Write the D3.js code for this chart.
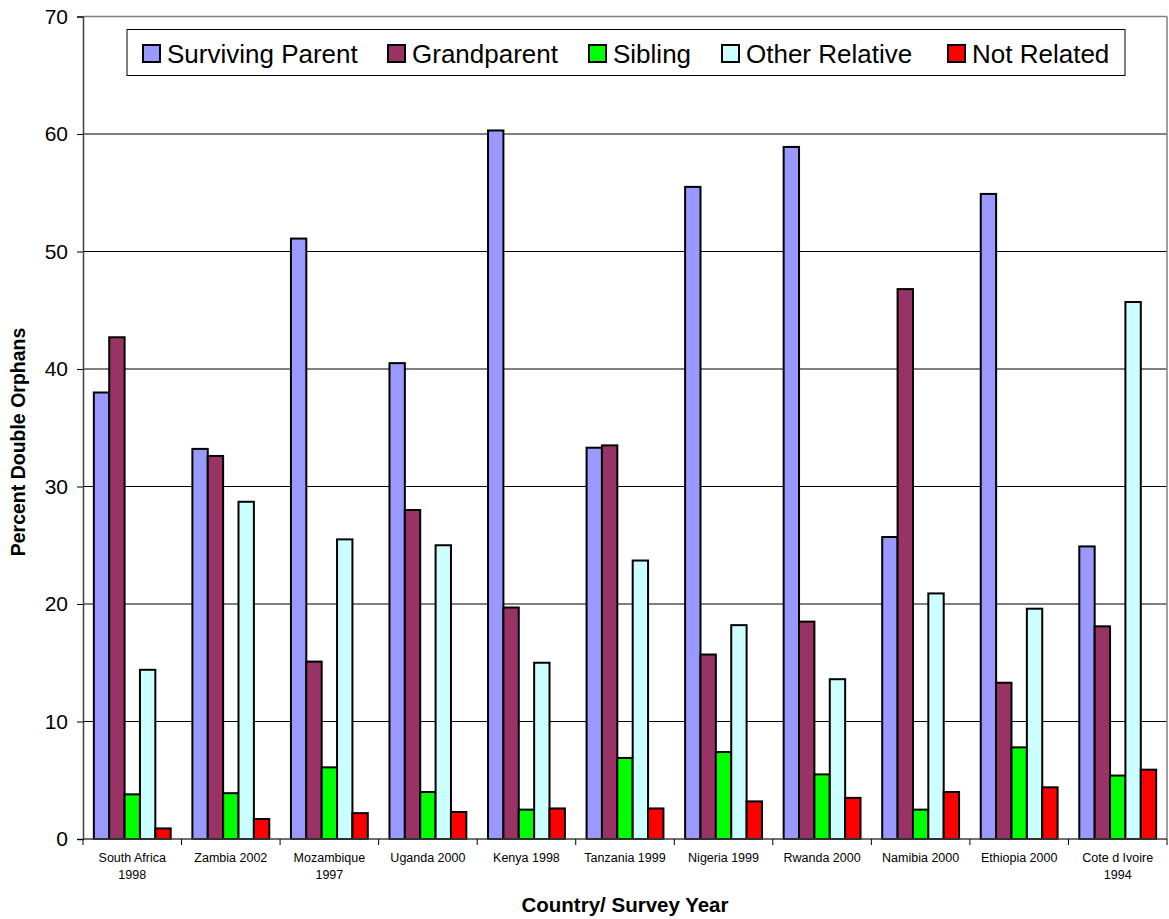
<html>
<head>
<meta charset="utf-8">
<script src="https://d3js.org/d3.v7.min.js"></script>
<style>
body { margin: 0; background: #fff; }
text { font-family: "Liberation Sans", Arial, sans-serif; }
</style>
</head>
<body>
<div id="stuff"><svg width="1169" height="919"></svg></div>
<script>
// categories (each label split into lines)
var countries = ["South Africa 1998", "Zambia 2002", "Mozambique 1997", "Uganda 2000", "Kenya 1998",
	"Tanzania 1999", "Nigeria 1999", "Rwanda 2000", "Namibia 2000", "Ethiopia 2000", "Cote d Ivoire 1994"];
var countryLines = [["South Africa", "1998"], ["Zambia 2002"], ["Mozambique", "1997"], ["Uganda 2000"], ["Kenya 1998"],
	["Tanzania 1999"], ["Nigeria 1999"], ["Rwanda 2000"], ["Namibia 2000"], ["Ethiopia 2000"], ["Cote d Ivoire", "1994"]];

var seriesNames = ["Surviving Parent", "Grandparent", "Sibling", "Other Relative", "Not Related"];
var seriesColors = ["#9999ff", "#993366", "#00ff00", "#ccffff", "#ff0000"];

var survivingParent = [38.0, 33.2, 51.1, 40.5, 60.3, 33.3, 55.5, 58.9, 25.7, 54.9, 24.9];
var grandparent     = [42.7, 32.6, 15.1, 28.0, 19.7, 33.5, 15.7, 18.5, 46.8, 13.3, 18.1];
var sibling         = [3.8, 3.9, 6.1, 4.0, 2.5, 6.9, 7.4, 5.5, 2.5, 7.8, 5.4];
var otherRelative   = [14.4, 28.7, 25.5, 25.0, 15.0, 23.7, 18.2, 13.6, 20.9, 19.6, 45.7];
var notRelated      = [0.9, 1.7, 2.2, 2.3, 2.6, 2.6, 3.2, 3.5, 4.0, 4.4, 5.9];

var yTicks = [0, 10, 20, 30, 40, 50, 60, 70];

var seriesValues = [survivingParent, grandparent, sibling, otherRelative, notRelated];

var svg = d3.select("#stuff").select("svg");

var plotLeft = 83, plotRight = 1167, plotTop = 16.5, plotBottom = 839;

var y = d3.scaleLinear().domain([0, 70]).range([plotBottom, plotTop]);
var x0 = d3.scaleBand().domain(countries).range([plotLeft, plotRight]).paddingInner(0.22).paddingOuter(0.11);
var x1 = d3.scaleBand().domain(seriesNames).range([0, x0.bandwidth()]);
var step = (plotRight - plotLeft) / countries.length;

// gridlines
svg.append("g")
	.selectAll("line")
	.data(yTicks.filter(function(d) { return d > 0 && d < 70; }))
	.enter().append("line")
	.attr("x1", plotLeft).attr("x2", plotRight)
	.attr("y1", function(d) { return y(d); })
	.attr("y2", function(d) { return y(d); })
	.attr("stroke", "#000").attr("stroke-width", 1);

// plot border top/right (gray)
svg.append("line").attr("x1", plotLeft).attr("x2", plotRight).attr("y1", plotTop).attr("y2", plotTop)
	.attr("stroke", "#808080").attr("stroke-width", 1.5);
svg.append("line").attr("x1", plotRight).attr("x2", plotRight).attr("y1", plotTop).attr("y2", plotBottom)
	.attr("stroke", "#808080").attr("stroke-width", 1.5);

// bars
var groups = svg.append("g").selectAll("g")
	.data(countries)
	.enter().append("g")
	.attr("transform", function(d) { return "translate(" + x0(d) + ",0)"; });

groups.selectAll("rect")
	.data(function(d, i) {
		return seriesNames.map(function(s, j) { return { name: s, value: seriesValues[j][i], color: seriesColors[j] }; });
	})
	.enter().append("rect")
	.attr("x", function(d) { return x1(d.name); })
	.attr("y", function(d) { return y(d.value); })
	.attr("width", x1.bandwidth())
	.attr("height", function(d) { return y(0) - y(d.value); })
	.attr("fill", function(d) { return d.color; })
	.attr("stroke", "#000")
	.attr("stroke-width", 2);

// y axis
var yAxis = d3.axisLeft(y).tickValues(yTicks).tickSize(6).tickPadding(9);
var yg = svg.append("g").attr("transform", "translate(" + plotLeft + ",0)").call(yAxis);
yg.select(".domain").attr("stroke", "#404040").attr("stroke-width", 1.5);
yg.selectAll(".tick line").attr("stroke", "#000");
yg.selectAll("text").style("font-size", "21px").attr("fill", "#000")
	.style("font-family", "Liberation Sans, Arial, sans-serif");

// x axis baseline and ticks at category boundaries
svg.append("line").attr("x1", plotLeft).attr("x2", plotRight).attr("y1", plotBottom).attr("y2", plotBottom)
	.attr("stroke", "#404040").attr("stroke-width", 1.5);
svg.append("g").selectAll("line")
	.data(d3.range(countries.length + 1))
	.enter().append("line")
	.attr("x1", function(i) { return plotLeft + i * step; })
	.attr("x2", function(i) { return plotLeft + i * step; })
	.attr("y1", plotBottom).attr("y2", plotBottom + 6)
	.attr("stroke", "#000");

// x labels
var xl = svg.append("g").selectAll("text")
	.data(countries)
	.enter().append("text")
	.attr("x", function(d) { return x0(d) + x0.bandwidth() / 2; })
	.attr("y", 862)
	.style("font-size", "12.5px")
	.style("text-anchor", "middle")
	.attr("fill", "#000");
xl.each(function(d, i) {
	var t = d3.select(this);
	countryLines[i].forEach(function(line, k) {
		t.append("tspan")
			.attr("x", x0(d) + x0.bandwidth() / 2)
			.attr("dy", k === 0 ? 0 : 17)
			.text(line);
	});
});

// axis titles
svg.append("text")
	.attr("x", (plotLeft + plotRight) / 2).attr("y", 912)
	.style("font-size", "20.5px").style("font-weight", "bold")
	.style("text-anchor", "middle")
	.text("Country/ Survey Year");

svg.append("text")
	.attr("transform", "translate(25,442) rotate(-90)")
	.style("font-size", "19.5px").style("font-weight", "bold")
	.style("text-anchor", "middle")
	.text("Percent Double Orphans");

// legend
svg.append("rect")
	.attr("x", 127).attr("y", 29.5).attr("width", 998).attr("height", 46)
	.attr("fill", "#fff").attr("stroke", "#000").attr("stroke-width", 1);

var legendX = [143, 388, 589, 722, 948];
var legend = svg.append("g").selectAll("g")
	.data(seriesNames)
	.enter().append("g")
	.attr("transform", function(d, i) { return "translate(" + legendX[i] + ",45)"; });
legend.append("rect")
	.attr("width", 17).attr("height", 17)
	.attr("fill", function(d, i) { return seriesColors[i]; })
	.attr("stroke", "#000").attr("stroke-width", 2);
legend.append("text")
	.attr("x", 24).attr("y", 17.5)
	.style("font-size", "26px")
	.attr("fill", "#000")
	.text(function(d) { return d; });
</script>
</body>
</html>
